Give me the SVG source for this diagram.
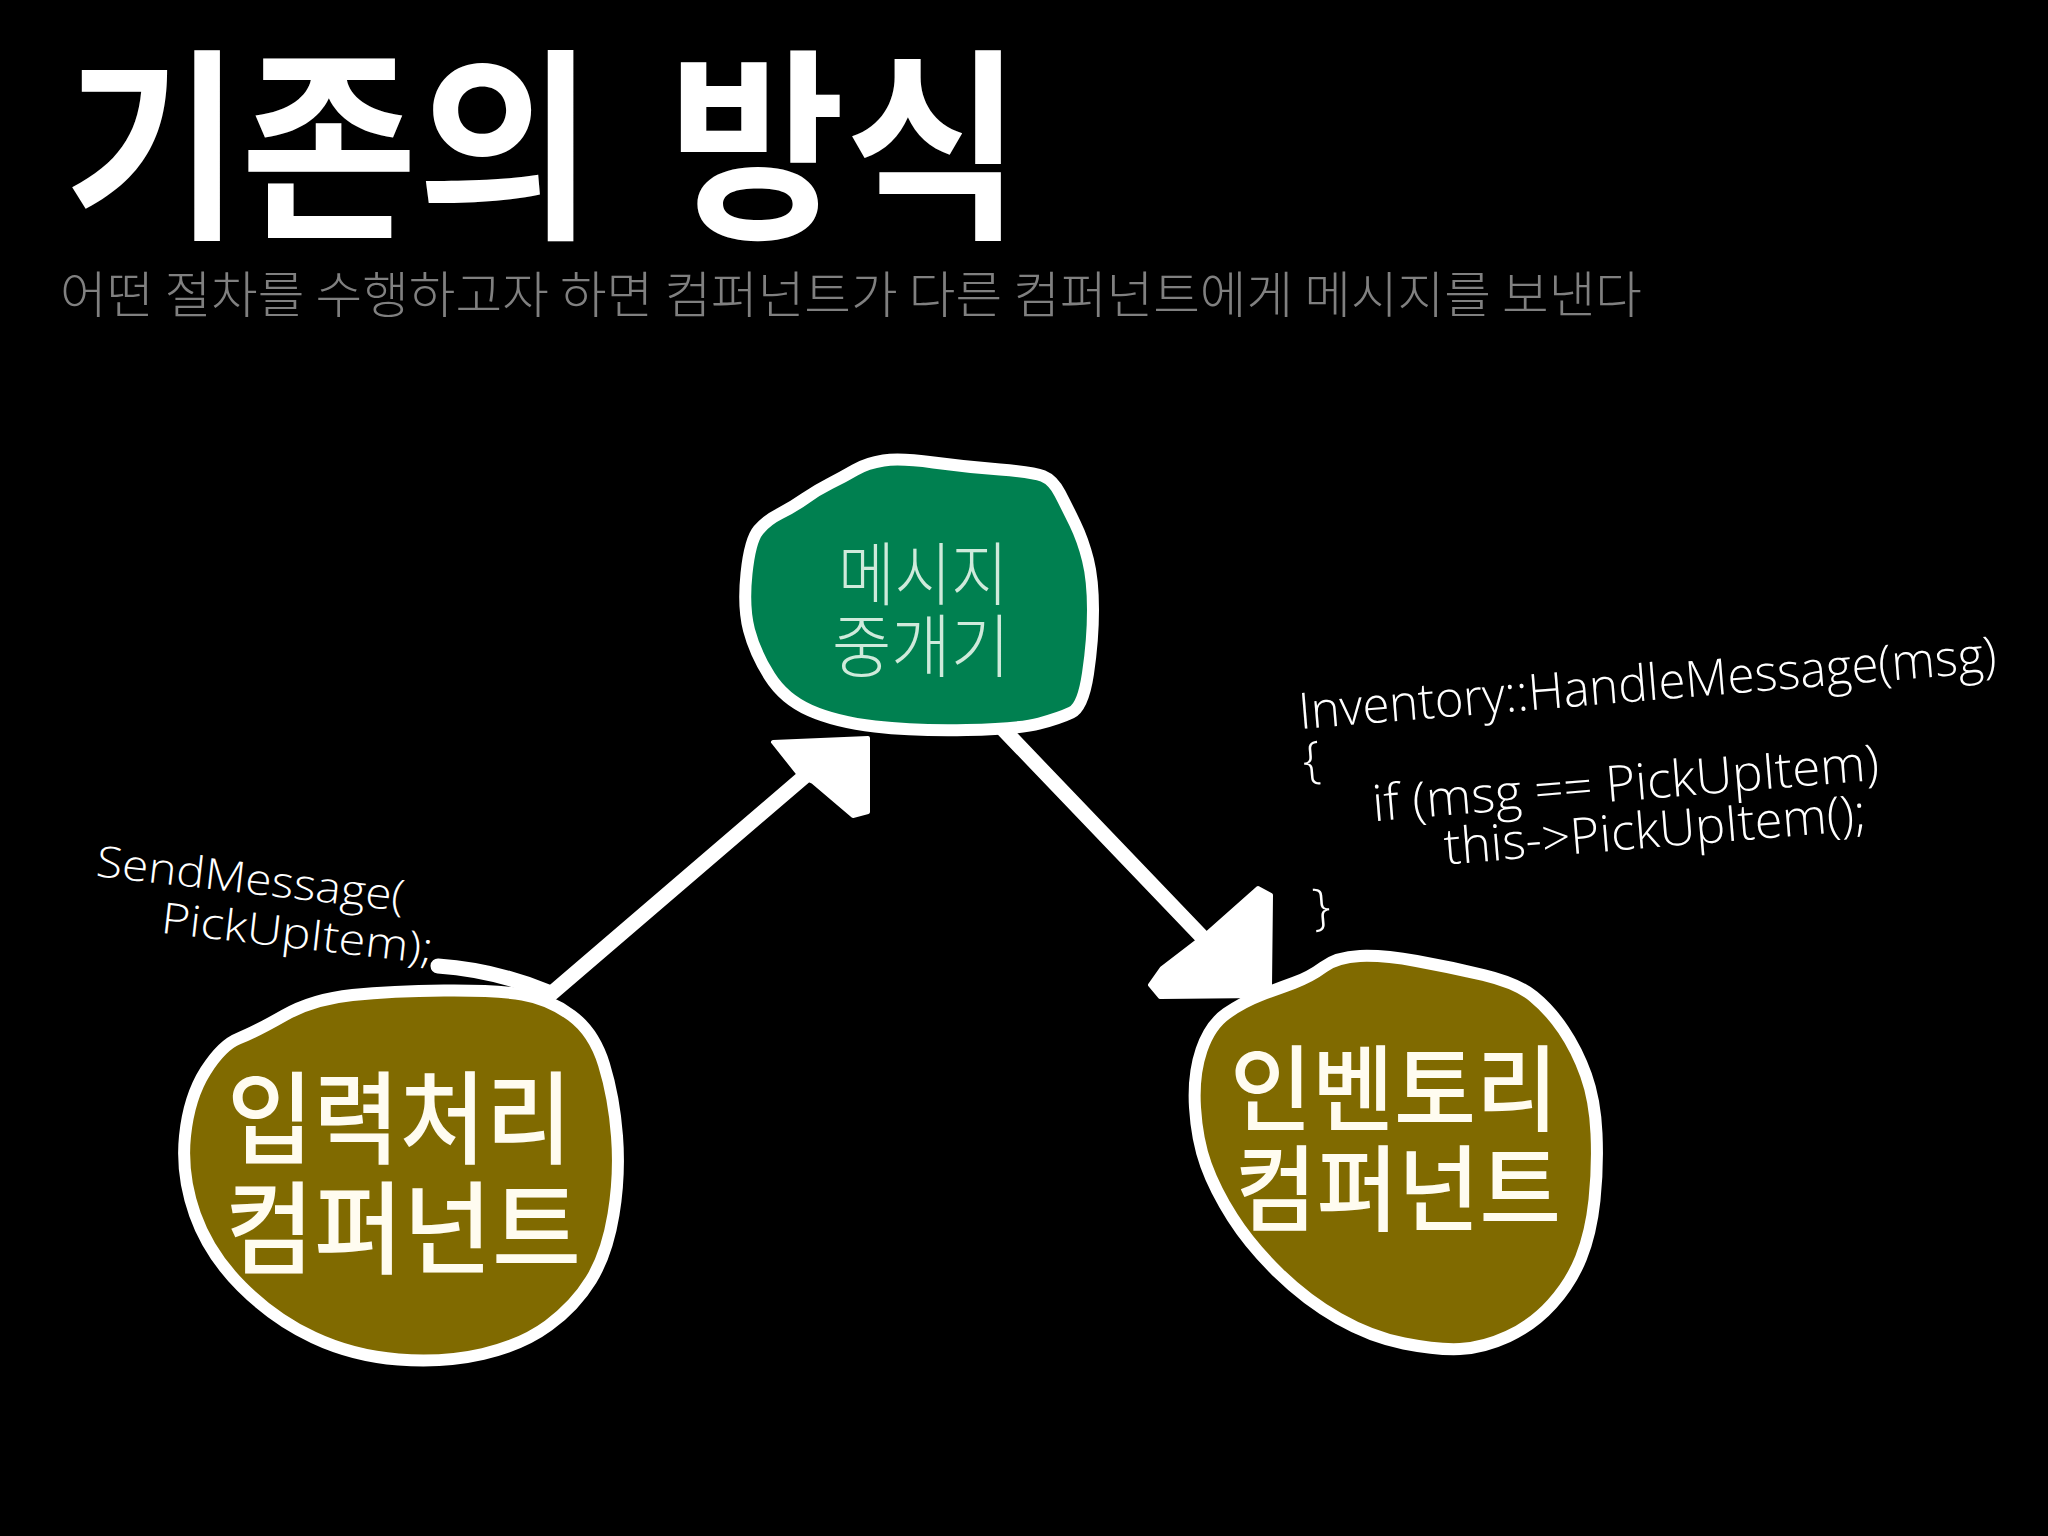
<svg xmlns="http://www.w3.org/2000/svg" width="2048" height="1536" viewBox="0 0 2048 1536">
<style>
.kr{font-family:'Noto Sans CJK KR','Noto Sans',sans-serif}
.code{font-family:'Open Sans','Noto Sans',sans-serif;font-weight:300;fill:#ffffff}
.blob{stroke:#ffffff;stroke-width:12;stroke-linejoin:round}
.green{fill:#008050}
.olive{fill:#806a00}
.shaft{fill:none;stroke:#ffffff;stroke-width:15;stroke-linecap:round;stroke-linejoin:round}
.head{fill:#ffffff;stroke:#ffffff;stroke-width:4;stroke-linejoin:round}
.ntxt{fill:#fffcf0;font-weight:500}
</style>
<rect width="2048" height="1536" fill="#000000"/>
<g id="title">
<text class="kr" x="64" y="222" font-size="205" font-weight="700" fill="#ffffff" textLength="530" lengthAdjust="spacingAndGlyphs">기존의</text>
<text class="kr" x="668" y="222" font-size="205" font-weight="700" fill="#ffffff" textLength="354" lengthAdjust="spacingAndGlyphs">방식</text>
</g>
<g id="subtitle">
<text class="kr" x="60" y="313" font-size="50" font-weight="300" fill="#808080" textLength="1582" lengthAdjust="spacingAndGlyphs">어떤 절차를 수행하고자 하면 컴퍼넌트가 다른 컴퍼넌트에게 메시지를 보낸다</text>
</g>
<g id="connectors">
<path class="shaft" d="M438,966 Q495,970 548,992"/>
<path class="shaft" d="M552,993 L805,776"/>
<polygon class="head" points="773,742 868,738 868,812 853,816 813,782 800,776"/>
<path class="shaft" d="M1000,726 L1205,940"/>
<polygon class="head" points="1258,888 1271,895 1270,986 1262,996 1160,997 1150,985 1162,968 1205,935"/>
</g>
<g id="node-mediator">
<path class="blob green" d="M749,630 Q743,607 746.5,573.5 Q750,540 758.5,530 Q767,520 780,513.5 Q793,507 805,498.5 Q817,490 830,483.5 Q843,477 855,470 Q867,463 883.5,460.5 Q900,458 933.5,462.5 Q967,467 1000,469.5 Q1033,472 1043,476 Q1053,480 1060,493.5 Q1067,507 1075,523.5 Q1083,540 1088,560 Q1093,580 1093,610 Q1093,640 1088,673.5 Q1083,707 1071.5,712.5 Q1060,718 1039.5,723.5 Q1019,729 966.5,730 Q914,731 875,726.5 Q836,722 810,710.5 Q784,699 769.5,676 Q755,653 749,630 Z"/>
<text class="kr" x="838" y="600" font-size="69" font-weight="300" fill="#cfeadb" textLength="170" lengthAdjust="spacingAndGlyphs">메시지</text>
<text class="kr" x="832" y="672" font-size="69" font-weight="300" fill="#cfeadb" textLength="178" lengthAdjust="spacingAndGlyphs">중개기</text>
</g>
<g id="node-input">
<path class="blob olive" d="M238.5,1038.5 Q255,1032 284,1015.5 Q313,999 352.5,995 Q392,991 444,990.5 Q496,990 522.5,994.5 Q549,999 571.5,1015.5 Q594,1032 604,1064.5 Q614,1097 617,1136 Q620,1175 613.5,1214.5 Q607,1254 591,1280 Q575,1306 548.5,1325.5 Q522,1345 483,1354 Q444,1363 398.5,1359.5 Q353,1356 313.5,1337.5 Q274,1319 241.5,1286.5 Q209,1254 195,1214.5 Q181,1175 185,1136 Q189,1097 205.5,1071 Q222,1045 238.5,1038.5 Z"/>
<text class="kr ntxt" x="227" y="1156" font-size="101" textLength="345" lengthAdjust="spacingAndGlyphs">입력처리</text>
<text class="kr ntxt" x="225" y="1266" font-size="101" textLength="356" lengthAdjust="spacingAndGlyphs">컴퍼넌트</text>
</g>
<g id="node-inventory">
<path class="blob olive" d="M1293.5,983 Q1310,977 1323.5,967 Q1337,957 1360,956 Q1383,955 1416.5,961 Q1450,967 1483.5,975 Q1517,983 1533.5,996.5 Q1550,1010 1563.5,1030 Q1577,1050 1586,1075 Q1595,1100 1596.5,1133.5 Q1598,1167 1594.5,1200 Q1591,1233 1581,1258 Q1571,1283 1552,1304 Q1533,1325 1508,1336.5 Q1483,1348 1460,1349 Q1437,1350 1404,1343.5 Q1371,1337 1338.5,1318.5 Q1306,1300 1278,1272.5 Q1250,1245 1232.5,1217.5 Q1215,1190 1206,1165 Q1197,1140 1195,1107.5 Q1193,1075 1201.5,1050 Q1210,1025 1226.5,1013.5 Q1243,1002 1260,995.5 Q1277,989 1293.5,983 Z"/>
<text class="kr ntxt" x="1230" y="1124" font-size="94" textLength="328" lengthAdjust="spacingAndGlyphs">인벤토리</text>
<text class="kr ntxt" x="1235" y="1224" font-size="94" textLength="326" lengthAdjust="spacingAndGlyphs">컴퍼넌트</text>
</g>
<g id="label-send" transform="rotate(6.5 95 876)">
<text class="code" x="95" y="876" font-size="43" textLength="310" lengthAdjust="spacingAndGlyphs">SendMessage(</text>
<text class="code" x="166" y="925" font-size="43" textLength="273" lengthAdjust="spacingAndGlyphs">PickUpItem);</text>
</g>
<g id="label-handle" transform="rotate(-4.7 1300 729)">
<text class="code" x="1300" y="729" font-size="50" textLength="700" lengthAdjust="spacingAndGlyphs">Inventory::HandleMessage(msg)</text>
<text class="code" x="1300" y="778" font-size="50">{</text>
<text class="code" x="1366" y="827" font-size="50" textLength="508" lengthAdjust="spacingAndGlyphs">if (msg == PickUpItem)</text>
<text class="code" x="1434" y="876" font-size="50" textLength="423" lengthAdjust="spacingAndGlyphs">this-&gt;PickUpItem();</text>
<text class="code" x="1298" y="925" font-size="50">}</text>
</g>
</svg>
